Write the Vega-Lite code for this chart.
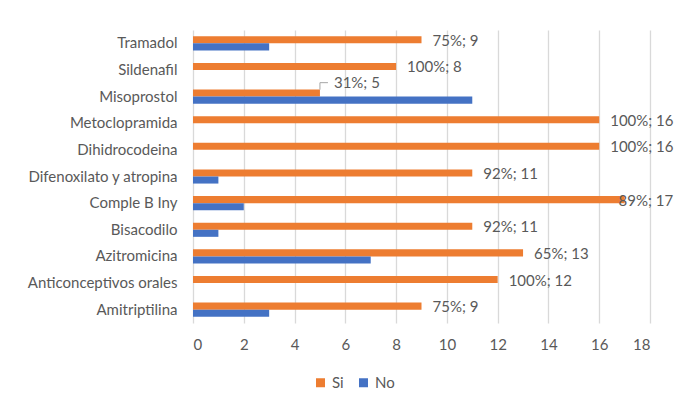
{
  "$schema": "https://vega.github.io/schema/vega-lite/v6.json",
  "autosize": "none",
  "width": 457,
  "height": 293,
  "padding": {"left": 193, "top": 30, "right": 26, "bottom": 79},
  "background": "white",
  "config": {
    "view": {"stroke": null},
    "font": "Lato",
    "text": {"font": "Lato"}
  },
  "data": {
    "values": [
      {"farmaco": "Tramadol", "serie": "Si", "valor": 9, "etiqueta": "75%; 9"},
      {"farmaco": "Tramadol", "serie": "No", "valor": 3, "etiqueta": ""},
      {"farmaco": "Sildenafil", "serie": "Si", "valor": 8, "etiqueta": "100%; 8"},
      {"farmaco": "Sildenafil", "serie": "No", "valor": 0, "etiqueta": ""},
      {"farmaco": "Misoprostol", "serie": "Si", "valor": 5, "etiqueta": "31%; 5"},
      {"farmaco": "Misoprostol", "serie": "No", "valor": 11, "etiqueta": ""},
      {"farmaco": "Metoclopramida", "serie": "Si", "valor": 16, "etiqueta": "100%; 16"},
      {"farmaco": "Metoclopramida", "serie": "No", "valor": 0, "etiqueta": ""},
      {"farmaco": "Dihidrocodeina", "serie": "Si", "valor": 16, "etiqueta": "100%; 16"},
      {"farmaco": "Dihidrocodeina", "serie": "No", "valor": 0, "etiqueta": ""},
      {"farmaco": "Difenoxilato y atropina", "serie": "Si", "valor": 11, "etiqueta": "92%; 11"},
      {"farmaco": "Difenoxilato y atropina", "serie": "No", "valor": 1, "etiqueta": ""},
      {"farmaco": "Comple B Iny", "serie": "Si", "valor": 17, "etiqueta": "89%; 17"},
      {"farmaco": "Comple B Iny", "serie": "No", "valor": 2, "etiqueta": ""},
      {"farmaco": "Bisacodilo", "serie": "Si", "valor": 11, "etiqueta": "92%; 11"},
      {"farmaco": "Bisacodilo", "serie": "No", "valor": 1, "etiqueta": ""},
      {"farmaco": "Azitromicina", "serie": "Si", "valor": 13, "etiqueta": "65%; 13"},
      {"farmaco": "Azitromicina", "serie": "No", "valor": 7, "etiqueta": ""},
      {"farmaco": "Anticonceptivos orales", "serie": "Si", "valor": 12, "etiqueta": "100%; 12"},
      {"farmaco": "Anticonceptivos orales", "serie": "No", "valor": 0, "etiqueta": ""},
      {"farmaco": "Amitriptilina", "serie": "Si", "valor": 9, "etiqueta": "75%; 9"},
      {"farmaco": "Amitriptilina", "serie": "No", "valor": 3, "etiqueta": ""}
    ]
  },
  "encoding": {
    "y": {
      "field": "farmaco",
      "type": "nominal",
      "sort": null,
      "scale": {"paddingInner": 0.47, "paddingOuter": 0.235},
      "axis": {
        "title": null,
        "domain": false,
        "ticks": false,
        "labelPadding": 16,
        "labelFontSize": 15,
        "labelColor": "#595959",
        "labelFont": "Lato"
      }
    },
    "yOffset": {"field": "serie", "type": "nominal", "scale": {"domain": ["Si", "No"]}},
    "x": {
      "field": "valor",
      "type": "quantitative",
      "scale": {"domain": [0, 18], "nice": false},
      "axis": {
        "title": null,
        "values": [0, 2, 4, 6, 8, 10, 12, 14, 16, 18],
        "domain": false,
        "ticks": false,
        "grid": true,
        "gridColor": "#D9D9D9",
        "gridWidth": 1.3,
        "labelPadding": 14,
        "labelFontSize": 15,
        "labelColor": "#595959",
        "labelFont": "Lato"
      }
    }
  },
  "layer": [
    {
      "mark": {"type": "bar"},
      "encoding": {
        "color": {
          "field": "serie",
          "type": "nominal",
          "scale": {"domain": ["Si", "No"], "range": ["#ED7D31", "#4472C4"]},
          "legend": {
            "title": null,
            "orient": "none",
            "direction": "horizontal",
            "legendX": 120,
            "legendY": 345,
            "symbolType": "square",
            "symbolSize": 81,
            "symbolStrokeWidth": 0,
            "symbolOpacity": 1,
            "labelFontSize": 15,
            "labelColor": "#595959",
            "labelFont": "Lato",
            "labelOffset": 4,
            "columnPadding": 12
          }
        }
      }
    },
    {
      "transform": [{"filter": "datum.serie == 'Si' && datum.farmaco != 'Misoprostol' && datum.farmaco != 'Comple B Iny'"}],
      "mark": {"type": "text", "align": "left", "baseline": "middle", "dx": 11, "dy": 1, "fontSize": 15, "color": "#595959"},
      "encoding": {"text": {"field": "etiqueta"}}
    },
    {
      "transform": [{"filter": "datum.farmaco == 'Misoprostol' && datum.serie == 'Si'"}],
      "mark": {"type": "text", "align": "left", "baseline": "middle", "dx": 14, "dy": -10, "fontSize": 15, "color": "#595959"},
      "encoding": {"text": {"field": "etiqueta"}}
    },
    {
      "transform": [{"filter": "datum.farmaco == 'Comple B Iny' && datum.serie == 'Si'"}],
      "mark": {"type": "text", "align": "left", "baseline": "middle", "dx": -6, "dy": 1, "fontSize": 15, "color": "#595959"},
      "encoding": {"text": {"field": "etiqueta"}}
    },
    {
      "transform": [{"filter": "datum.farmaco == 'Misoprostol' && datum.serie == 'Si'"}],
      "mark": {"type": "point", "shape": "M0,-0.85L0,-2.6L2,-2.6", "size": 64, "filled": false, "opacity": 1, "stroke": "#A6A6A6", "strokeWidth": 1}
    }
  ]
}
